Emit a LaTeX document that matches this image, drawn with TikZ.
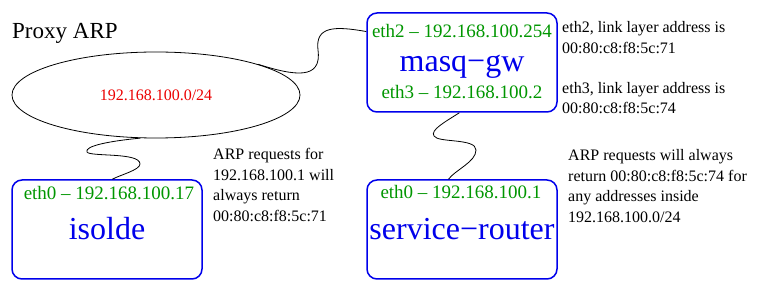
\documentclass[tikz,border=0pt]{standalone}
\usepackage{fontspec}
\setmainfont{Liberation Serif}
\usetikzlibrary{shapes.geometric}
\definecolor{ifgreen}{RGB}{0,150,0}
\definecolor{hostblue}{RGB}{0,0,235}
\definecolor{netred}{RGB}{235,0,0}

\begin{document}
\begin{tikzpicture}[x=1pt,y=-1pt,
  host/.style={draw=hostblue,line width=1.5pt,rounded corners=10pt,minimum width=190pt,minimum height=99pt,inner sep=0pt},
  ifaddr/.style={anchor=base,text=ifgreen,font=\fontsize{19}{23}\selectfont,inner sep=0pt},
  hostname/.style={anchor=base,text=hostblue,font=\fontsize{32}{38}\selectfont,inner sep=0pt},
  note/.style={anchor=north west,align=left,font=\fontsize{16}{20.7}\selectfont,inner sep=0pt},
  wire/.style={line width=0.8pt}]
\useasboundingbox (0,0) rectangle (764,291);
\node[anchor=base west,inner sep=0pt,font=\fontsize{23}{28}\selectfont] (title) at (12,39) {Proxy ARP};
\node[draw,ellipse,line width=0.8pt,minimum width=288pt,minimum height=86pt,inner sep=0pt,text=netred,font=\fontsize{16}{20}\selectfont] (lan) at (156,95) {192.168.100.0/24};
\node[host] (masqgw) at (462,62.5) {};
\node[host] (isolde) at (107,229.5) {};
\node[host] (srouter) at (462,229.5) {};
\node[ifaddr] (eth2) at (462,38) {eth2 – 192.168.100.254};
\node[hostname] (masqname) at (462,72) {masq−gw};
\node[ifaddr] (eth3) at (462,99) {eth3 – 192.168.100.2};
\node[ifaddr] (isoeth0) at (109,200) {eth0 – 192.168.100.17};
\node[hostname] (isoname) at (107,240) {isolde};
\node[ifaddr] (sreth0) at (461,199) {eth0 – 192.168.100.1};
\node[hostname] (srname) at (462,240) {service−router};
\node[note] (eth2note) at (562,21.5) {eth2, link layer address is\\00:80:c8:f8:5c:71};
\node[note] (eth3note) at (562,82) {eth3, link layer address is\\00:80:c8:f8:5c:74};
\node[note] (isonote) at (213,148) {ARP requests for\\192.168.100.1 will\\always return\\00:80:c8:f8:5c:71};
\node[note] (srnote) at (568,149) {ARP requests will always\\return 00:80:c8:f8:5c:74 for\\any addresses inside\\192.168.100.0/24};
\draw[wire] (lan.north east) .. controls (295,76) and (322,80) .. (318,50) .. controls (315,26) and (335,26) .. (masqgw.west |- eth2.center);
\draw[wire] (lan.250) .. controls (110,141) and (84,146) .. (87,152) .. controls (90,157) and (140,152) .. (140,164) .. controls (140,170) and (120,175) .. (isolde.84);
\draw[wire] (masqgw.-93) .. controls (445,122) and (430,130) .. (434,136) .. controls (438,143) and (476,138) .. (476,150) .. controls (476,162) and (455,170) .. (srouter.105);
\end{tikzpicture}
\end{document}
